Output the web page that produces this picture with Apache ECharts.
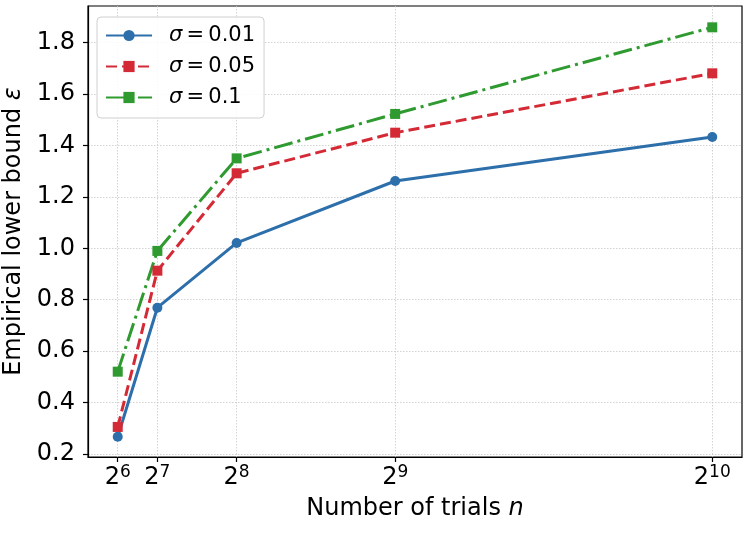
<!DOCTYPE html>
<html>
<head>
<meta charset="utf-8">
<script src="https://cdn.jsdelivr.net/npm/echarts@6/dist/echarts.min.js"></script>
<style>html,body{margin:0;padding:0;background:#fff}#c{width:751px;height:535px}</style>
</head>
<body>
<div id="c"></div>
<script>
const trials = [64, 128, 256, 512, 1024];
const exponents = [6, 7, 8, 9, 10];
const sigma001 = [0.267, 0.769, 1.021, 1.262, 1.433];
const sigma005 = [0.305, 0.913, 1.292, 1.450, 1.681];
const sigma01 = [0.520, 0.990, 1.350, 1.523, 1.860];
const yTicks = [0.2, 0.4, 0.6, 0.8, 1.0, 1.2, 1.4, 1.6, 1.8];
const seriesNames = ['0.01', '0.05', '0.1'];

const FONT = 'DejaVu Sans';
const chart = echarts.init(document.getElementById('c'), null, {renderer: 'canvas'});

function mk(name, vals, color, symbol, type, size) {
  return {
    name: name, type: 'line',
    data: trials.map((t, i) => [t, vals[i]]),
    symbol: symbol, symbolSize: size,
    itemStyle: {color: color},
    lineStyle: {color: color, width: 3, type: type},
    emphasis: {disabled: true},
    z: 3
  };
}

chart.setOption({
  animation: false,
  textStyle: {fontFamily: FONT},
  grid: {left: 88, top: 6, right: 9, bottom: 78, show: true, borderColor: '#000', borderWidth: 1.2,
         containLabel: false, outerBoundsMode: 'none'},
  legend: {
    left: 97, top: 17, orient: 'vertical',
    padding: [8, 9, 10, 8],
    itemWidth: 46, itemHeight: 14, itemGap: 10,
    backgroundColor: 'rgba(255,255,255,0.85)', borderColor: '#d0d0d0', borderWidth: 1, borderRadius: 4,
    data: seriesNames,
    formatter: n => '{i|σ}{t|\u2009=\u2009' + n + '}',
    textStyle: {
      fontFamily: FONT, fontSize: 21, lineHeight: 21, color: '#000', padding: [0, 0, 0, 12],
      rich: {
        i: {fontFamily: FONT, fontStyle: 'italic', fontSize: 21, lineHeight: 21, color: '#000'},
        t: {fontFamily: FONT, fontSize: 21, lineHeight: 21, color: '#000'}
      }
    }
  },
  xAxis: {
    type: 'value', min: 16, max: 1072,
    axisLine: {show: true, onZero: false, lineStyle: {color: '#000', width: 1.2}},
    axisTick: {show: true, length: 5, lineStyle: {color: '#000', width: 1.2}, customValues: trials},
    axisLabel: {
      customValues: trials, margin: 7,
      formatter: v => '{b|2}{s|' + exponents[trials.indexOf(v)] + '}',
      rich: {
        b: {fontFamily: FONT, fontSize: 24, color: '#000', lineHeight: 28},
        s: {fontFamily: FONT, fontSize: 17, color: '#000', lineHeight: 15, verticalAlign: 'top'}
      }
    },
    splitLine: {show: true, lineStyle: {color: '#c8c8c8', type: [1.5, 1.5], width: 0.8}},
    name: 'Number of trials {i|n}', nameLocation: 'middle', nameGap: 40,
    nameTextStyle: {
      fontFamily: FONT, fontSize: 24, color: '#000',
      rich: {i: {fontFamily: FONT, fontSize: 24, fontStyle: 'italic', color: '#000'}}
    }
  },
  yAxis: {
    type: 'value', min: 0.188, max: 1.943,
    axisLine: {show: true, onZero: false, lineStyle: {color: '#000', width: 1.2}},
    axisTick: {show: true, length: 5, lineStyle: {color: '#000', width: 1.2}, customValues: yTicks},
    axisLabel: {customValues: yTicks, formatter: v => v.toFixed(1), fontFamily: FONT, fontSize: 24, color: '#000', margin: 13},
    splitLine: {show: true, lineStyle: {color: '#c8c8c8', type: [1.5, 1.5], width: 0.8}},
    name: 'Empirical lower bound {i|ε}', nameLocation: 'middle', nameGap: 60, nameRotate: 90,
    nameTextStyle: {
      fontFamily: FONT, fontSize: 24, color: '#000',
      rich: {i: {fontFamily: FONT, fontSize: 24, fontStyle: 'italic', color: '#000'}}
    }
  },
  series: [
    mk(seriesNames[0], sigma001, '#2d6fab', 'circle', 'solid', 10),
    mk(seriesNames[1], sigma005, '#d42a36', 'rect', [11, 5], 10),
    mk(seriesNames[2], sigma01, '#2f9a2f', 'rect', [19, 5, 3, 5], 10)
  ]
});
</script>
</body>
</html>
